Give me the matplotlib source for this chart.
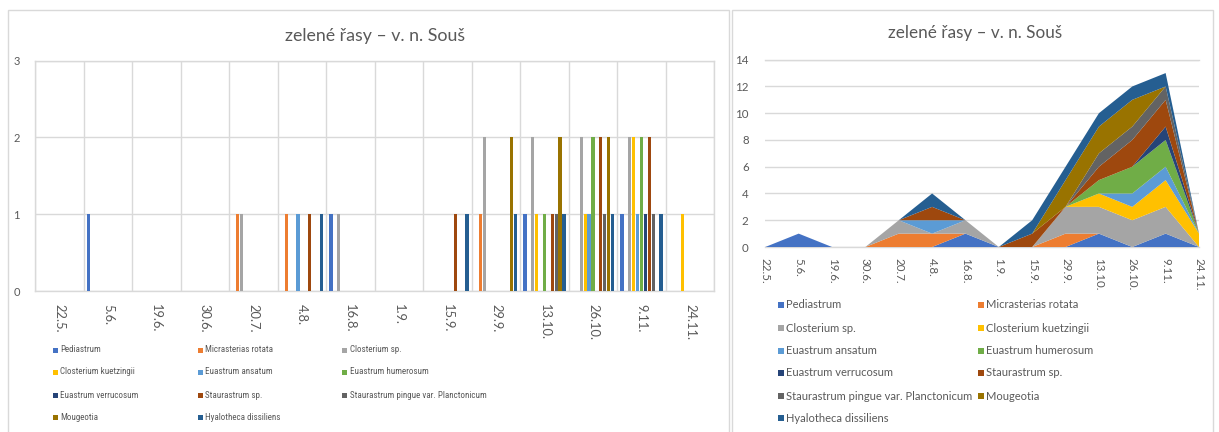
import matplotlib
matplotlib.use("Agg")
import matplotlib.pyplot as plt
from matplotlib.patches import Rectangle
from matplotlib import font_manager
import numpy as np

# Sampling dates and species counts (green algae, reservoir Souš)
dates = ["22.5.", "5.6.", "19.6.", "30.6.", "20.7.", "4.8.", "16.8.",
         "1.9.", "15.9.", "29.9.", "13.10.", "26.10.", "9.11.", "24.11."]

species = ["Pediastrum", "Micrasterias rotata", "Closterium sp.",
           "Closterium kuetzingii", "Euastrum ansatum", "Euastrum humerosum",
           "Euastrum verrucosum", "Staurastrum sp.",
           "Staurastrum pingue var. Planctonicum", "Mougeotia",
           "Hyalotheca dissiliens"]

pediastrum            = [0, 1, 0, 0, 0, 0, 1, 0, 0, 0, 1, 0, 1, 0]
micrasterias_rotata   = [0, 0, 0, 0, 1, 1, 0, 0, 0, 1, 0, 0, 0, 0]
closterium_sp         = [0, 0, 0, 0, 1, 0, 1, 0, 0, 2, 2, 2, 2, 0]
closterium_kuetzingii = [0, 0, 0, 0, 0, 0, 0, 0, 0, 0, 1, 1, 2, 1]
euastrum_ansatum      = [0, 0, 0, 0, 0, 1, 0, 0, 0, 0, 0, 1, 1, 0]
euastrum_humerosum    = [0, 0, 0, 0, 0, 0, 0, 0, 0, 0, 1, 2, 2, 0]
euastrum_verrucosum   = [0, 0, 0, 0, 0, 0, 0, 0, 0, 0, 0, 0, 1, 0]
staurastrum_sp        = [0, 0, 0, 0, 0, 1, 0, 0, 1, 0, 1, 2, 2, 0]
staurastrum_pingue    = [0, 0, 0, 0, 0, 0, 0, 0, 0, 0, 1, 1, 1, 0]
mougeotia             = [0, 0, 0, 0, 0, 0, 0, 0, 0, 2, 2, 2, 0, 0]
hyalotheca_dissiliens = [0, 0, 0, 0, 0, 1, 0, 0, 1, 1, 1, 1, 1, 0]

series = [pediastrum, micrasterias_rotata, closterium_sp, closterium_kuetzingii,
          euastrum_ansatum, euastrum_humerosum, euastrum_verrucosum,
          staurastrum_sp, staurastrum_pingue, mougeotia, hyalotheca_dissiliens]

colors = ["#4472C4", "#ED7D31", "#A5A5A5", "#FFC000", "#5B9BD5", "#70AD47",
          "#264478", "#9E480E", "#636363", "#997300", "#255E91"]

title = "zelené řasy – v. n. Souš"

TEXT = "#595959"
GRID = "#D9D9D9"

fonts = font_manager.fontManager.ttflist
available = {f.name for f in fonts}
main_font = "Lato" if "Lato" in available else "DejaVu Sans"

# a narrow face for the left legend
narrow_font, narrow_stretch = main_font, "normal"
for cand in ["Liberation Sans Narrow", "Roboto Condensed", "Open Sans Condensed",
             "Noto Sans Condensed"]:
    if cand in available:
        narrow_font = cand
        break
else:
    if any(f.name == "DejaVu Sans" and "ondensed" in str(f.stretch) for f in fonts):
        narrow_font, narrow_stretch = "DejaVu Sans", "condensed"

plt.rcParams["font.family"] = [main_font, "DejaVu Sans"]

W, H = 1219, 432
fig = plt.figure(figsize=(W / 100, H / 100), dpi=100)
fig.patch.set_facecolor("white")


def box(x0, y0, x1, y1):
    return [x0 / W, 1 - y1 / H, (x1 - x0) / W, (y1 - y0) / H]


def fx(x):
    return x / W


def fy(y):
    return 1 - y / H


# panel frames
for x0, x1 in [(8, 729), (732, 1213)]:
    fig.add_artist(Rectangle((fx(x0), fy(440)), fx(x1) - fx(x0), fy(10) - fy(440),
                             transform=fig.transFigure, fill=False,
                             edgecolor=GRID, linewidth=1.0))

# ---------- left: clustered columns ----------
ax1 = fig.add_axes(box(35, 60.7, 714.3, 291))
n_dates = len(dates)
slot = 0.0804
first = -0.5 + 0.098
idx = np.arange(n_dates)
for j, (vals, c) in enumerate(zip(series, colors)):
    ax1.bar(idx + first + j * slot, vals, width=0.068, color=c, linewidth=0, zorder=3)

ax1.set_xlim(-0.5, n_dates - 0.5)
ax1.set_ylim(0, 3)
ax1.set_yticks([0, 1, 2, 3])
ax1.set_xticks(idx)
ax1.set_xticklabels(dates, rotation=270, ha="center", va="top")
ax1.set_xticks(np.arange(-0.5, n_dates, 1), minor=True)
ax1.grid(axis="y", which="major", color=GRID, linewidth=1.0, zorder=0)
ax1.grid(axis="x", which="minor", color=GRID, linewidth=1.0, zorder=0)
ax1.set_axisbelow(True)
for s in ax1.spines.values():
    s.set_color(GRID)
    s.set_linewidth(1.0)
ax1.tick_params(axis="both", which="both", length=0, labelcolor=TEXT)
ax1.tick_params(axis="y", labelsize=8.0, pad=11)
ax1.tick_params(axis="x", labelsize=9.3, pad=9)

fig.text(fx(375), fy(36), title, ha="center", va="center", fontsize=12.8, color=TEXT)

# ---------- right: stacked area ----------
ax2 = fig.add_axes(box(765.3, 59.7, 1199, 247))
ax2.stackplot(idx, series, colors=colors, linewidth=0, zorder=3)
ax2.set_xlim(0, n_dates - 1)
ax2.set_ylim(0, 14)
ax2.set_yticks(np.arange(0, 15, 2))
ax2.set_xticks(idx)
ax2.set_xticklabels(dates, rotation=270, ha="center", va="top")
ax2.grid(axis="y", color=GRID, linewidth=1.0, zorder=0)
ax2.set_axisbelow(True)
for k in ["left", "right"]:
    ax2.spines[k].set_visible(False)
for k in ["top", "bottom"]:
    ax2.spines[k].set_color(GRID)
    ax2.spines[k].set_linewidth(1.0)
ax2.tick_params(axis="both", length=0, labelcolor=TEXT, labelsize=8.3)
ax2.tick_params(axis="y", pad=12)
ax2.tick_params(axis="x", pad=8)

fig.text(fx(975), fy(33), title, ha="center", va="center", fontsize=12.3, color=TEXT)


# ---------- legends ----------
def draw_legend(col_x, row_y, ncol, size, msize, font, stretch="normal"):
    for k, (name, c) in enumerate(zip(species, colors)):
        r, cidx = divmod(k, ncol)
        x = col_x[cidx]
        y = row_y[r]
        fig.add_artist(Rectangle((fx(x - msize / 2), fy(y + msize / 2)),
                                 msize / W, msize / H, transform=fig.transFigure,
                                 facecolor=c, edgecolor="none"))
        fig.text(fx(x + msize / 2 + 2.5), fy(y), name, ha="left", va="center",
                 fontsize=size, color=TEXT, family=[font, "DejaVu Sans"],
                 fontstretch=stretch)


left_size = 6.5 if narrow_font != main_font else 5.6
draw_legend([55, 200, 345], [350, 372, 395, 417], 3, left_size, 5, narrow_font, narrow_stretch)
draw_legend([780.7, 980.7], [305, 328, 351, 373, 396, 418], 2, 8.0, 6, main_font)

fig.savefig("out.png", dpi=100, facecolor="white")
